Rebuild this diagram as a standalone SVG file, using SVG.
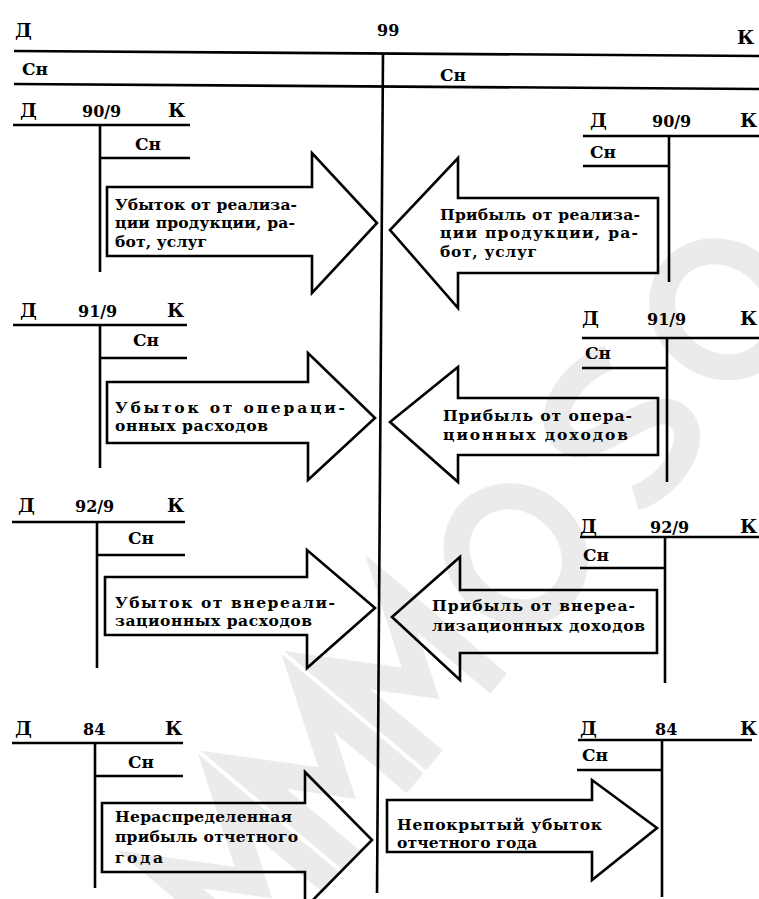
<svg xmlns="http://www.w3.org/2000/svg" width="759" height="899" viewBox="0 0 759 899">
<style>
.ln{stroke:#000;stroke-width:2.6;fill:none;stroke-linecap:butt}
.ar{stroke:#000;stroke-width:2.6;fill:none;stroke-linejoin:miter}
.h{font-family:"DejaVu Serif","Liberation Serif",serif;font-weight:bold;font-size:19px;fill:#000}
.n{font-family:"DejaVu Serif","Liberation Serif",serif;font-weight:bold;font-size:16px;fill:#000}
.c{font-family:"DejaVu Serif","Liberation Serif",serif;font-weight:bold;font-size:17px;fill:#000}
.t{font-family:"DejaVu Serif","Liberation Serif",serif;font-weight:bold;font-size:15.5px;fill:#000}
.wm{stroke:#ebebeb;stroke-width:26;fill:none;stroke-linejoin:miter}
</style>
<rect width="759" height="899" fill="#fff"/>
<g id="watermark" transform="translate(490,585) rotate(-50)">
<polyline class="wm" points="-430,70 -430,-70 -380,10 -330,-70 -330,70"/>
<polyline class="wm" points="-300,70 -300,-70 -250,10 -200,-70 -200,70"/>
<polyline class="wm" points="-170,70 -170,-70 -120,10 -70,-70 -70,70"/>
<ellipse class="wm" cx="40" cy="0" rx="55" ry="62"/>
<path class="wm" d="M250,-55 C220,-75 160,-70 160,-35 C160,0 250,0 250,35 C250,70 190,75 160,55"/>
<ellipse class="wm" cx="360" cy="0" rx="55" ry="62"/>
</g>
<g id="account-99">
<text class="h" x="15" y="37">Д</text>
<text class="n" x="377" y="36">99</text>
<text class="h" x="737" y="44">К</text>
<line class="ln" x1="14" y1="51" x2="759" y2="56"/>
<line class="ln" x1="14" y1="84" x2="759" y2="89"/>
<text class="c" x="22" y="75">Сн</text>
<text class="c" x="440" y="81">Сн</text>
<line class="ln" x1="383" y1="54" x2="377" y2="893"/>
</g>
<g id="acc-90-9-left">
<text class="h" x="20" y="117">Д</text>
<text class="n" x="82" y="117">90/9</text>
<text class="h" x="168" y="117">К</text>
<line class="ln" x1="13" y1="125" x2="190" y2="125"/>
<line class="ln" x1="100" y1="125" x2="100" y2="272"/>
<text class="c" x="135" y="150">Сн</text>
<line class="ln" x1="100" y1="158" x2="190" y2="158"/>
<polygon class="ar" points="107,187 312,187 312,153 377,223 312,293 312,256 107,256"/>
<text class="t" x="115" y="210" textLength="182" lengthAdjust="spacing">Убыток от реализа-</text>
<text class="t" x="115" y="228" textLength="180" lengthAdjust="spacing">ции продукции, ра-</text>
<text class="t" x="115" y="247" textLength="92" lengthAdjust="spacing">бот, услуг</text>
</g>
<g id="acc-90-9-right">
<text class="h" x="590" y="127">Д</text>
<text class="n" x="652" y="127">90/9</text>
<text class="h" x="740" y="127">К</text>
<line class="ln" x1="583" y1="136" x2="759" y2="136"/>
<line class="ln" x1="669" y1="136" x2="669" y2="282"/>
<text class="c" x="590" y="158">Сн</text>
<line class="ln" x1="583" y1="166" x2="669" y2="166"/>
<polygon class="ar" points="658,198 458,198 458,158 390,230 458,308 458,273 658,273"/>
<text class="t" x="440" y="220" textLength="200" lengthAdjust="spacing">Прибыль от реализа-</text>
<text class="t" x="440" y="238" textLength="198" lengthAdjust="spacing">ции продукции, ра-</text>
<text class="t" x="440" y="257" textLength="97" lengthAdjust="spacing">бот, услуг</text>
</g>
<g id="acc-91-9-left">
<text class="h" x="20" y="317">Д</text>
<text class="n" x="78" y="317">91/9</text>
<text class="h" x="167" y="317">К</text>
<line class="ln" x1="13" y1="325" x2="187" y2="325"/>
<line class="ln" x1="100" y1="325" x2="100" y2="468"/>
<text class="c" x="133" y="346">Сн</text>
<line class="ln" x1="100" y1="358" x2="187" y2="358"/>
<polygon class="ar" points="107,382 308,382 308,353 375,418 308,480 308,443 107,443"/>
<text class="t" x="115" y="413" textLength="230" lengthAdjust="spacing">Убыток от операци-</text>
<text class="t" x="115" y="431" textLength="153" lengthAdjust="spacing">онных расходов</text>
</g>
<g id="acc-91-9-right">
<text class="h" x="582" y="325">Д</text>
<text class="n" x="647" y="325">91/9</text>
<text class="h" x="740" y="325">К</text>
<line class="ln" x1="582" y1="338" x2="759" y2="338"/>
<line class="ln" x1="667" y1="338" x2="667" y2="482"/>
<text class="c" x="585" y="359">Сн</text>
<line class="ln" x1="582" y1="368" x2="667" y2="368"/>
<polygon class="ar" points="658,398 458,398 458,367 390,422 458,482 458,455 658,455"/>
<text class="t" x="443" y="421" textLength="189" lengthAdjust="spacing">Прибыль от опера-</text>
<text class="t" x="443" y="440" textLength="185" lengthAdjust="spacing">ционных доходов</text>
</g>
<g id="acc-92-9-left">
<text class="h" x="18" y="512">Д</text>
<text class="n" x="75" y="512">92/9</text>
<text class="h" x="167" y="512">К</text>
<line class="ln" x1="12" y1="522" x2="185" y2="522"/>
<line class="ln" x1="97" y1="522" x2="97" y2="668"/>
<text class="c" x="128" y="544">Сн</text>
<line class="ln" x1="97" y1="555" x2="185" y2="555"/>
<polygon class="ar" points="105,577 307,577 307,550 375,608 307,668 307,635 105,635"/>
<text class="t" x="115" y="608" textLength="220" lengthAdjust="spacing">Убыток от внереали-</text>
<text class="t" x="115" y="626" textLength="197" lengthAdjust="spacing">зационных расходов</text>
</g>
<g id="acc-92-9-right">
<text class="h" x="580" y="533">Д</text>
<text class="n" x="650" y="533">92/9</text>
<text class="h" x="740" y="533">К</text>
<line class="ln" x1="580" y1="537" x2="759" y2="537"/>
<line class="ln" x1="665" y1="537" x2="665" y2="683"/>
<text class="c" x="583" y="561">Сн</text>
<line class="ln" x1="580" y1="568" x2="665" y2="568"/>
<polygon class="ar" points="657,590 460,590 460,557 392,617 460,680 460,653 657,653"/>
<text class="t" x="432" y="611" textLength="203" lengthAdjust="spacing">Прибыль от внереа-</text>
<text class="t" x="432" y="631" textLength="213" lengthAdjust="spacing">лизационных доходов</text>
</g>
<g id="acc-84-left">
<text class="h" x="15" y="735">Д</text>
<text class="n" x="83" y="735">84</text>
<text class="h" x="165" y="735">К</text>
<line class="ln" x1="12" y1="743" x2="183" y2="743"/>
<line class="ln" x1="95" y1="743" x2="95" y2="888"/>
<text class="c" x="128" y="768">Сн</text>
<line class="ln" x1="95" y1="776" x2="183" y2="776"/>
<polygon class="ar" points="102,803 305,803 305,772 372,840 305,908 305,872 102,872"/>
<text class="t" x="115" y="822" textLength="177" lengthAdjust="spacing">Нераспределенная</text>
<text class="t" x="115" y="842" textLength="183" lengthAdjust="spacing">прибыль отчетного</text>
<text class="t" x="115" y="863" textLength="48" lengthAdjust="spacing">года</text>
</g>
<g id="acc-84-right">
<text class="h" x="580" y="735">Д</text>
<text class="n" x="655" y="735">84</text>
<text class="h" x="740" y="735">К</text>
<line class="ln" x1="578" y1="740" x2="752" y2="740"/>
<line class="ln" x1="662" y1="740" x2="662" y2="897"/>
<text class="c" x="582" y="761">Сн</text>
<line class="ln" x1="577" y1="770" x2="662" y2="770"/>
<polygon class="ar" points="387,800 592,800 592,780 657,828 592,880 592,852 387,852"/>
<text class="t" x="397" y="830" textLength="205" lengthAdjust="spacing">Непокрытый убыток</text>
<text class="t" x="397" y="848" textLength="140" lengthAdjust="spacing">отчетного года</text>
</g>
<g id="connectors"></g>
</svg>
